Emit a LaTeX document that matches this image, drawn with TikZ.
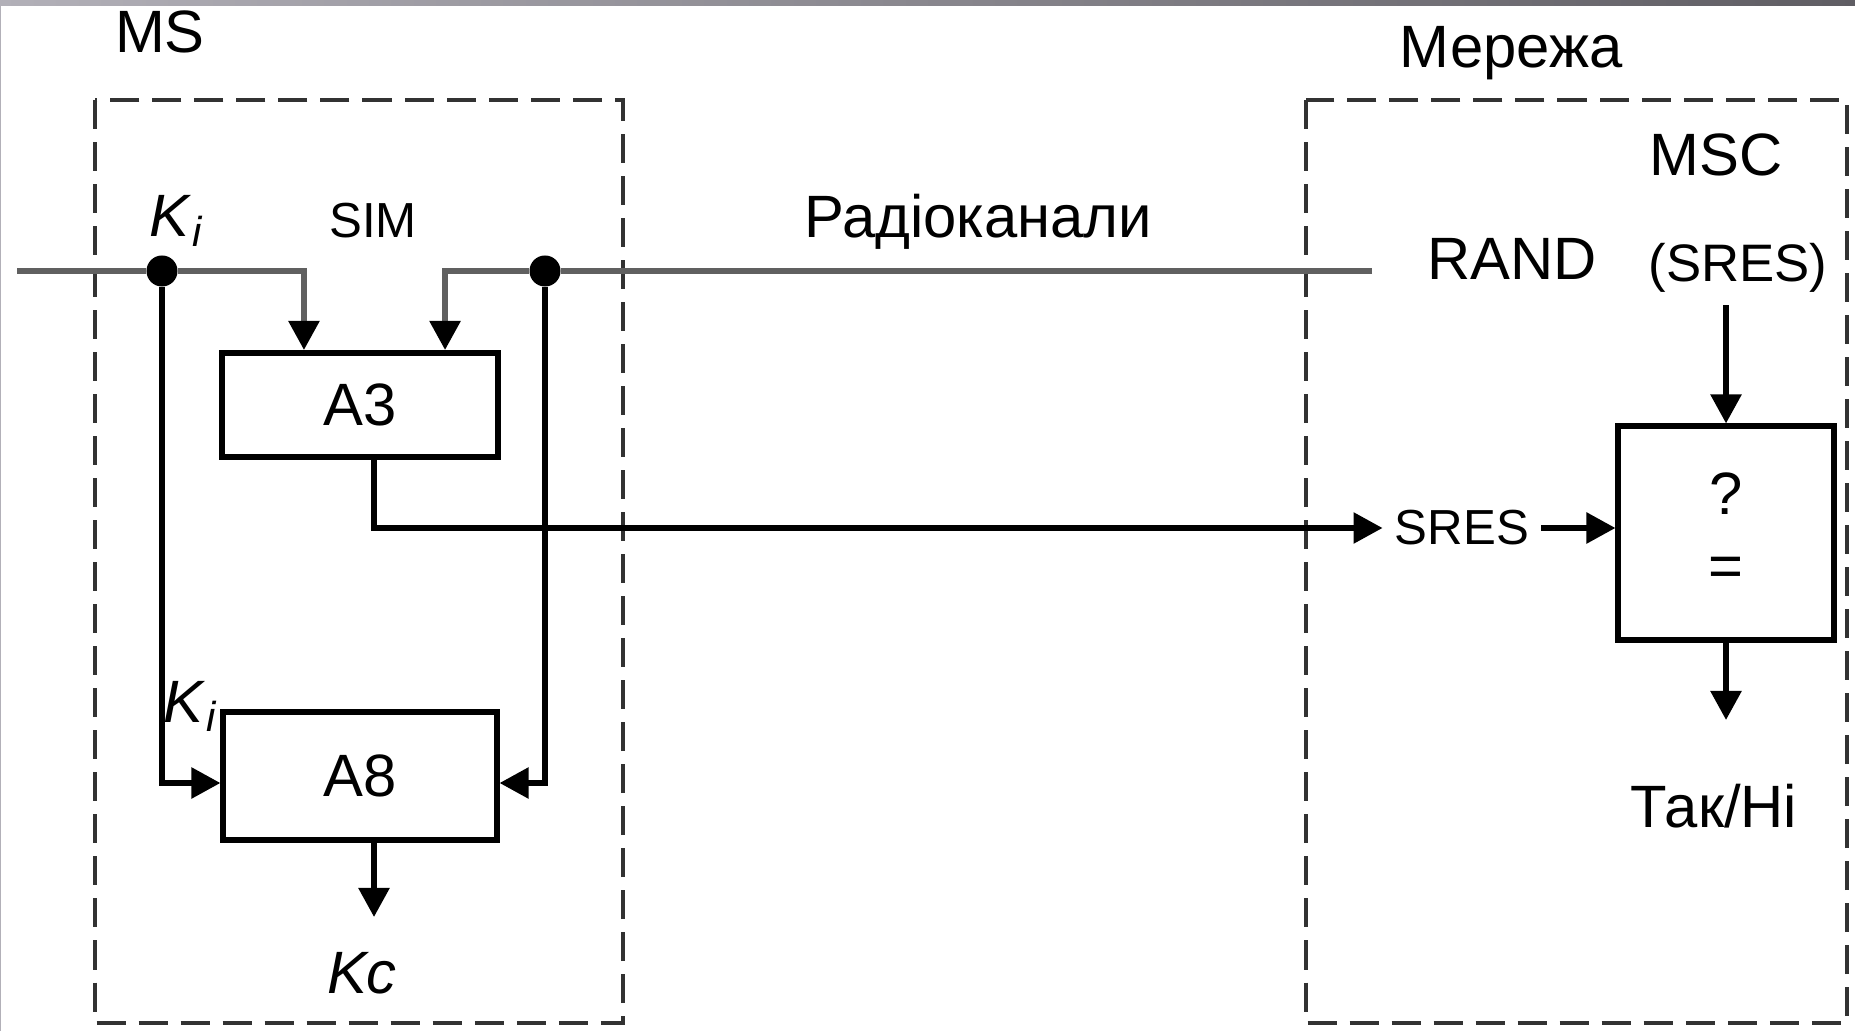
\documentclass[tikz,border=0pt]{standalone}
\usepackage{fontspec}
\setmainfont{Liberation Sans}
\usetikzlibrary{positioning, arrows.meta}
\definecolor{busgray}{RGB}{96,96,96}
\definecolor{zonegray}{RGB}{50,50,50}
\definecolor{barlight}{RGB}{178,176,184}
\definecolor{bardark}{RGB}{95,93,99}
\tikzset{
  big/.style={
      font=\fontsize{17}{20}\selectfont
    },
  mid/.style={
      font=\fontsize{15}{18}\selectfont
    },
  small/.style={
      font=\fontsize{14}{17}\selectfont
    },
  blk/.style={
      rectangle,
      draw,
      line width=1.7pt,
      fill=white,
      inner sep=0pt,
      font=\fontsize{17}{20}\selectfont
    },
  zone/.style={
      draw=zonegray,
      line width=1.2pt,
      dash pattern=on 0.29cm off 0.13cm
    },
  bus/.style={
      draw=busgray,
      line width=1.8pt
    },
  arr/.style={
      -{Triangle[length=0.29cm,width=0.3cm,color=black]},
      line width=1.6pt
    },
  dot/.style={
      circle,
      fill=black,
      inner sep=0pt,
      minimum size=0.31cm
    }
}

\begin{document}
\begin{tikzpicture}[x=0.01cm, y=-0.01cm]
  \useasboundingbox (0,0) rectangle (1855,1031);
  \shade[left color=barlight, right color=bardark] (0,0) rectangle (1855,6);
  \fill[barlight] (0,0) rectangle (1.5,1031);
  \draw[zone] (95,100) rectangle (623,1023);
  \draw[zone] (1306,100) rectangle (1847,1023);
  \node[big, anchor=base] (ms) at (160,53) {MS};
  \node[big, anchor=base] (net) at (1511,68) {Мережа};
  \node[big, anchor=base] (msc) at (1716,176) {MSC};
  \node[big, anchor=base] (radio) at (978,238) {Радіоканали};
  \node[small, anchor=base] (sim) at (373,238) {SIM};
  \node[big, anchor=base] (kitop) at (177,237) {\textit{K}\textsubscript{\textit{i}}};
  \node[big, anchor=base] (kilow) at (191,722) {\textit{K}\textsubscript{\textit{i}}};
  \node[big, anchor=base] (rand) at (1512,280) {RAND};
  \node[mid, anchor=base] (srest) at (1738,282) {(SRES)};
  \node[blk, minimum width=2.76cm, minimum height=1.04cm] (a3) at (360,405) {A3};
  \node[blk, minimum width=2.73cm, minimum height=1.28cm] (a8) at (360,776) {A8};
  \node[blk, minimum width=2.15cm, minimum height=2.13cm] (cmp) at (1726,533) {};
  \node[big, anchor=base] (q) at (1726,515) {?};
  \node[big, anchor=base] (eq) at (1726,587) {=};
  \node[small] (sres) at (1462,528) {SRES};
  \node[big, anchor=base] (kc) at (362,993) {\textit{Kc}};
  \node[big, anchor=base] (yes) at (1714,827) {Так/Ні};
  \node[dot] (d1) at (162,271) {};
  \node[dot] (d2) at (545,271) {};
  \coordinate (kin) at (17,271);
  \coordinate (rend) at (1372,271);
  \coordinate (kcin) at (374,917);
  \coordinate (res) at (1726,720);
  \draw[bus, arr] (kin) -- (d1) -| ([xshift=-0.56cm]a3.north);
  \draw[bus, arr] (rend) -- (d2) -| ([xshift=0.85cm]a3.north);
  \draw[arr] (d1) |- ([yshift=-0.07cm]a8.west);
  \draw[arr] (d2) |- ([yshift=-0.07cm]a8.east);
  \draw[arr] ([xshift=0.14cm]a3.south) |- (sres);
  \draw[arr] ([xshift=0.14cm]a8.south) -- (kcin);
  \draw[arr] (sres.east) -- (sres.east -| cmp.west);
  \draw[arr] (cmp.north |- srest.south) -- (cmp.north);
  \draw[arr] (cmp.south) -- (res);
\end{tikzpicture}
\end{document}
